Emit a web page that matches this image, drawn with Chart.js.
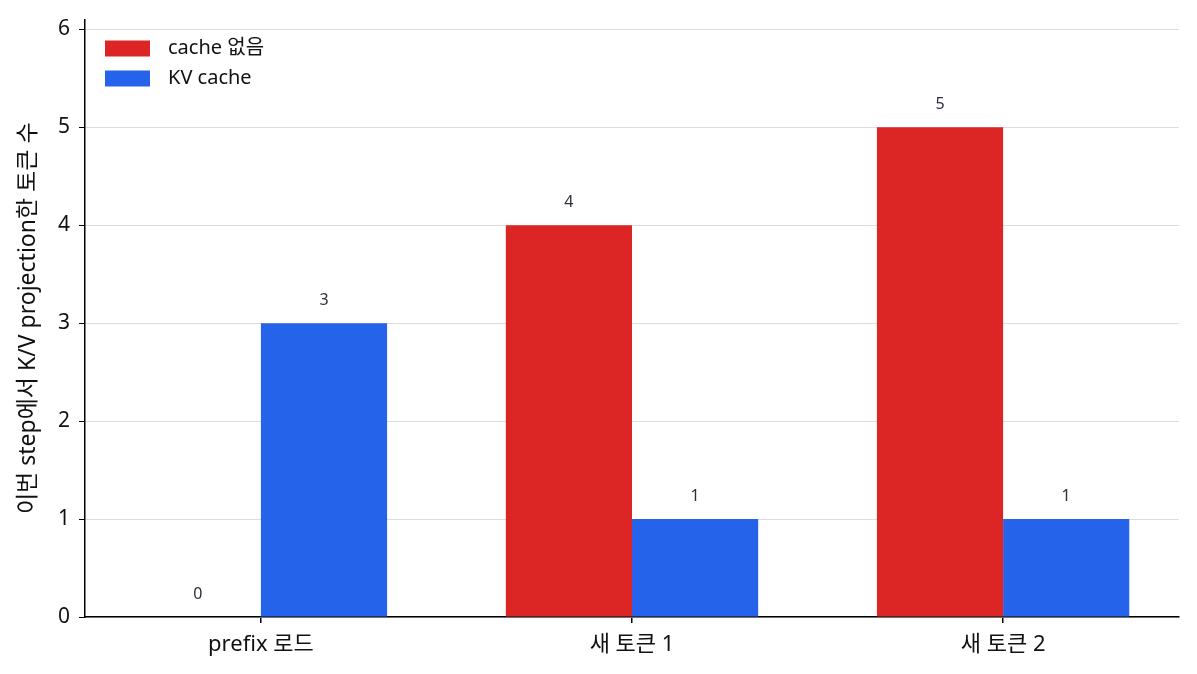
<!DOCTYPE html>
<html>
<head>
<meta charset="utf-8">
<script src="https://cdn.jsdelivr.net/npm/chart.js@4.4.1/dist/chart.umd.min.js"></script>
<style>
  html, body { margin: 0; padding: 0; background: #fff; }
  #wrap { width: 1197px; height: 674px; }
</style>
</head>
<body>
<div id="wrap"><canvas id="myChart"></canvas></div>
<script>
// categories and series
const categories = ['prefix 로드', '새 토큰 1', '새 토큰 2'];
const noCache = [0, 4, 5];
const kvCache = [3, 1, 1];
const seriesNames = ['cache 없음', 'KV cache'];
const seriesColors = ['#dc2626', '#2563eb'];
const yTicks = [0, 1, 2, 3, 4, 5, 6];

const fontFamily = "'Noto Sans', 'Noto Sans CJK KR', sans-serif";

function toPoints(arr) {
  return arr.map((v, i) => ({ x: i, y: v }));
}

// value labels above each bar
const valueLabels = {
  id: 'valueLabels',
  afterDatasetsDraw(chart) {
    const ctx = chart.ctx;
    ctx.save();
    ctx.font = '16px ' + fontFamily;
    ctx.fillStyle = '#2b2f3a';
    ctx.textAlign = 'center';
    ctx.textBaseline = 'middle';
    chart.data.datasets.forEach((ds, di) => {
      chart.getDatasetMeta(di).data.forEach((bar, i) => {
        ctx.fillText(String(ds.data[i].y), bar.x, bar.y - 23);
      });
    });
    ctx.restore();
  }
};

// legend drawn inside the plot, top-left
const innerLegend = {
  id: 'innerLegend',
  afterDraw(chart) {
    const ctx = chart.ctx;
    const area = chart.chartArea;
    ctx.save();
    ctx.font = '20px ' + fontFamily;
    ctx.textBaseline = 'middle';
    chart.data.datasets.forEach((ds, i) => {
      const y = area.top + 29 + i * 30;
      ctx.fillStyle = ds.backgroundColor;
      ctx.fillRect(area.left + 20, y - 8, 45, 16);
      ctx.fillStyle = '#111';
      ctx.fillText(ds.label, area.left + 83, y);
    });
    ctx.restore();
  }
};

new Chart(document.getElementById('myChart'), {
  type: 'bar',
  data: {
    datasets: [
      {
        label: seriesNames[0],
        data: toPoints(noCache),
        backgroundColor: seriesColors[0],
        categoryPercentage: 0.68,
        barPercentage: 1
      },
      {
        label: seriesNames[1],
        data: toPoints(kvCache),
        backgroundColor: seriesColors[1],
        categoryPercentage: 0.68,
        barPercentage: 1
      }
    ]
  },
  options: {
    responsive: true,
    maintainAspectRatio: false,
    animation: false,
    layout: { padding: { top: 18, right: 18, left: 0, bottom: 0 } },
    plugins: {
      legend: { display: false },
      tooltip: { enabled: false }
    },
    scales: {
      x: {
        type: 'linear',
        min: -0.474,
        max: 2.474,
        offset: false,
        afterBuildTicks: (axis) => {
          axis.ticks = categories.map((c, i) => ({ value: i }));
        },
        afterFit: (axis) => { axis.height = 57; },
        ticks: {
          callback: (v) => categories[v],
          color: '#111',
          font: { family: fontFamily, size: 22 },
          padding: 9,
          maxRotation: 0,
          autoSkip: false
        },
        grid: {
          display: true,
          offset: false,
          drawOnChartArea: false,
          drawTicks: true,
          tickLength: 6,
          tickColor: '#000',
          color: '#000',
          lineWidth: 1.5
        },
        border: { display: true, color: '#000', width: 1.5 }
      },
      y: {
        min: 0,
        max: 6.1,
        afterBuildTicks: (axis) => {
          axis.ticks = yTicks.map(v => ({ value: v }));
        },
        afterFit: (axis) => { axis.width = 85; },
        ticks: {
          color: '#111',
          font: { family: fontFamily, size: 21, lineHeight: 1 },
          padding: 9
        },
        grid: {
          color: '#d9dce0',
          tickColor: '#000',
          tickLength: 6,
          lineWidth: 1
        },
        border: { display: true, color: '#000', width: 1.5 },
        title: {
          display: true,
          text: '이번 step에서 K/V projection한 토큰 수',
          color: '#111',
          font: { family: fontFamily, size: 23 },
          padding: { top: 15, bottom: 0 }
        }
      }
    }
  },
  plugins: [valueLabels, innerLegend]
});
</script>
</body>
</html>
